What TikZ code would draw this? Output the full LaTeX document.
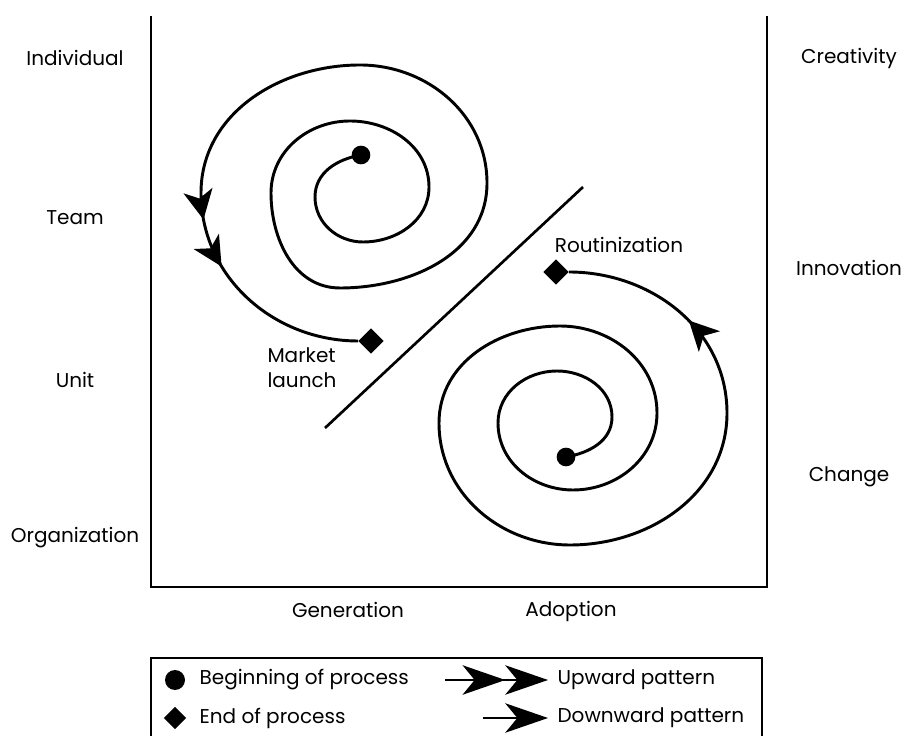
\documentclass[tikz,border=0pt]{standalone}
\usepackage{fontspec}
\setmainfont{Poppins}
\usetikzlibrary{arrows.meta,positioning,shapes.geometric,decorations.markings}
\tikzset{
  felirat/.style={font=\fontsize{15}{19}\selectfont,inner sep=1pt},
  kezdet/.style={circle,fill,inner sep=0pt,minimum size=14pt},
  veg/.style={diamond,fill,inner sep=0pt,minimum size=19pt},
  spir/.style={line width=2.2pt},
  tengely/.style={line width=1.6pt},
  fej/.tip={Stealth[length=22pt,width=22pt,inset=6pt]},
  lfej/.tip={Stealth[length=32pt,width=22pt,inset=9pt]},
}

\begin{document}
\begin{tikzpicture}[x=0.75pt,y=0.75pt]
  \useasboundingbox (0,0) rectangle (906,735);
  \clip (0,0) rectangle (906,735);
  % keret
  \draw[tengely] (151,719) -- (151,148) -- (767,148) -- (767,719);
  \draw[line width=2pt] (325,307) -- (583,548);
  % szintek
  \node[felirat] (ind) at (75,677) {Individual};
  \node[felirat] (team) at (75,517) {Team};
  \node[felirat] (unit) at (75,355) {Unit};
  \node[felirat] (org) at (75,197) {Organization};
  \node[felirat] (crea) at (849,677) {Creativity};
  \node[felirat] (inno) at (849,467) {Innovation};
  \node[felirat] (chan) at (849,258) {Change};
  \node[felirat] (gen) at (348,125) {Generation};
  \node[felirat] (adop) at (571,124) {Adoption};
  \node[felirat,align=left] (mark) at (302,367) {Market\\launch};
  \node[felirat] (rout) at (619,490) {Routinization};
  % felso spiral
  \node[kezdet] (b1) at (361,580) {};
  \node[veg] (e1) at (371,394) {};
  \coordinate (f3) at (201,542);
  \draw[spir] (b1.center) to[out=190,in=90] (315,538) to[out=-90,in=180] (363,493)
    to[out=0,in=-90] (429,548) to[out=90,in=0] (350,614) to[out=180,in=90] (271,542)
    to[out=-90,in=180] (340,447) to[out=0,in=-90] (487,552) to[out=90,in=0] (360,670)
    to[out=180,in=90] (f3);
  \draw[spir,decoration={markings,mark=at position 20pt with {\arrow{fej}},
      mark=at position 58pt with {\arrow{fej}}},postaction={decorate}]
    (f3) to[out=-90,in=180] (e1.west);
  % also spiral
  \node[kezdet] (b2) at (566,278) {};
  \node[veg] (e2) at (556,463) {};
  \coordinate (f6) at (727,322);
  \draw[spir] (b2.center) to[out=10,in=-90] (612,318) to[out=90,in=0] (557,364)
    to[out=180,in=90] (498,312) to[out=-90,in=180] (573,245) to[out=0,in=-90] (657,322)
    to[out=90,in=0] (560,409) to[out=180,in=90] (439,312) to[out=-90,in=180] (570,190)
    to[out=0,in=-90] (f6);
  \draw[spir,decoration={markings,mark=at position 77pt with {\arrow{fej}}},postaction={decorate}]
    (f6) to[out=90,in=0] (e2.east);
  % jelmagyarazat
  \draw[tengely] (151,-10) -- (151,77) -- (762,77) -- (762,-10);
  \node[kezdet,minimum size=15pt] (lb) at (175,55) {};
  \node[felirat,anchor=west] (lbt) at (198,55) {Beginning of process};
  \node[veg,minimum size=17pt] (le) at (175,17) {};
  \node[felirat,anchor=west] (let) at (198,17) {End of process};
  \node[felirat,anchor=west] (up) at (556,55) {Upward pattern};
  \node[felirat,anchor=west] (down) at (556,17) {Downward pattern};
  \coordinate (ua) at (445,55);
  \coordinate (da) at (483,17);
  \draw[spir,-{lfej[]lfej[]},shorten >=6pt] (ua) -- (up.west |- ua);
  \draw[spir,-{lfej[]},shorten >=6pt] (da) -- (down.west |- da);
\end{tikzpicture}
\end{document}
